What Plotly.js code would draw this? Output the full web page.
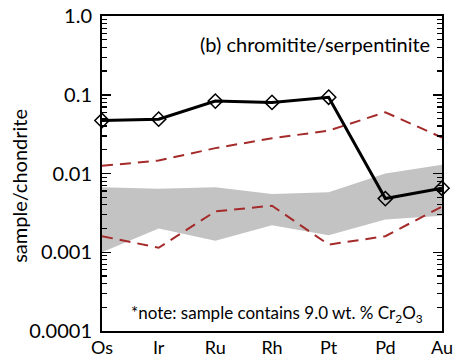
<!DOCTYPE html>
<html>
<head>
<meta charset="utf-8">
<script src="https://cdn.plot.ly/plotly-3.0.1.min.js"></script>
<style>html,body{margin:0;padding:0;background:#fff;}#chart{width:453px;height:359px;}</style>
</head>
<body>
<div id="chart"></div>
<script>
const elements = ["Os", "Ir", "Ru", "Rh", "Pt", "Pd", "Au"];
const sample = [0.047, 0.049, 0.083, 0.080, 0.093, 0.0048, 0.0065];
const refUpper = [0.0125, 0.0146, 0.021, 0.028, 0.035, 0.060, 0.0286];
const refLower = [0.0016, 0.00114, 0.0033, 0.0039, 0.00125, 0.0016, 0.0038];
const bandUpper = [0.0067, 0.0064, 0.0067, 0.0055, 0.0058, 0.0100, 0.0129];
const bandLower = [0.0010, 0.0020, 0.0014, 0.0022, 0.00164, 0.0026, 0.0029];
const yTickVals = [1, 0.1, 0.01, 0.001, 0.0001];
const yTickText = ["1.0", "0.1", "0.01", "0.001", "0.0001"];

const FONT = "Lato, 'Open Sans', sans-serif";
const red = "#a52a2a";

const traces = [
  {x: elements, y: bandLower, type: "scatter", mode: "lines", line: {width: 0}, hoverinfo: "skip", showlegend: false},
  {x: elements, y: bandUpper, type: "scatter", mode: "lines", line: {width: 0}, fill: "tonexty", fillcolor: "#c3c3c3", showlegend: false},
  {x: elements, y: refUpper, type: "scatter", mode: "lines", line: {color: red, width: 2, dash: "11px,7px"}, showlegend: false},
  {x: elements, y: refLower, type: "scatter", mode: "lines", line: {color: red, width: 2, dash: "11px,7px"}, showlegend: false},
  {x: elements, y: sample, type: "scatter", mode: "lines+markers", cliponaxis: false,
   line: {color: "#000", width: 3},
   marker: {symbol: "diamond-open", size: 11, color: "#000", line: {width: 1.5, color: "#000"}}, showlegend: false}
];

const layout = {
  width: 453, height: 359,
  margin: {l: 102, r: 11, t: 16, b: 28},
  paper_bgcolor: "#fff", plot_bgcolor: "#fff",
  font: {family: FONT, color: "#000", size: 18},
  showlegend: false,
  xaxis: {
    type: "category", range: [0, 6],
    showline: true, linecolor: "#000", linewidth: 2, mirror: true,
    ticks: "", showgrid: false, zeroline: false,
    ticklabelstandoff: -1,
    tickfont: {family: FONT, size: 18, color: "#000"}
  },
  yaxis: {
    type: "log", range: [-4, 0],
    showline: true, linecolor: "#000", linewidth: 2, mirror: "ticks",
    ticks: "inside", ticklen: 9, tickwidth: 1.5, tickcolor: "#000",
    tickvals: yTickVals, ticktext: yTickText,
    ticklabelstandoff: 4,
    minor: {ticks: "inside", ticklen: 5, tickwidth: 1.2, tickcolor: "#000", dtick: "D1", showgrid: false},
    showgrid: false, zeroline: false,
    tickfont: {family: FONT, size: 20, color: "#000"}
  },
  annotations: [
    {text: "sample/chondrite", xref: "paper", yref: "paper", x: -0.245, y: 0.46, xanchor: "center", yanchor: "middle",
     textangle: -90, showarrow: false, font: {family: FONT, size: 20, color: "#000"}},
    {text: "(b) chromitite/serpentinite", xref: "paper", yref: "paper", x: 0.97, y: 0.911, xanchor: "right", yanchor: "middle",
     showarrow: false, font: {family: FONT, size: 20, color: "#000"}},
    {text: "*note: sample contains 9.0 wt. % Cr<sub>2</sub>O<sub>3</sub>", xref: "paper", yref: "paper", x: 0.95, y: 0.055,
     xanchor: "right", yanchor: "middle", showarrow: false, font: {family: FONT, size: 17, color: "#000"}}
  ]
};

Plotly.newPlot("chart", traces, layout, {displayModeBar: false, staticPlot: true});
</script>
</body>
</html>
